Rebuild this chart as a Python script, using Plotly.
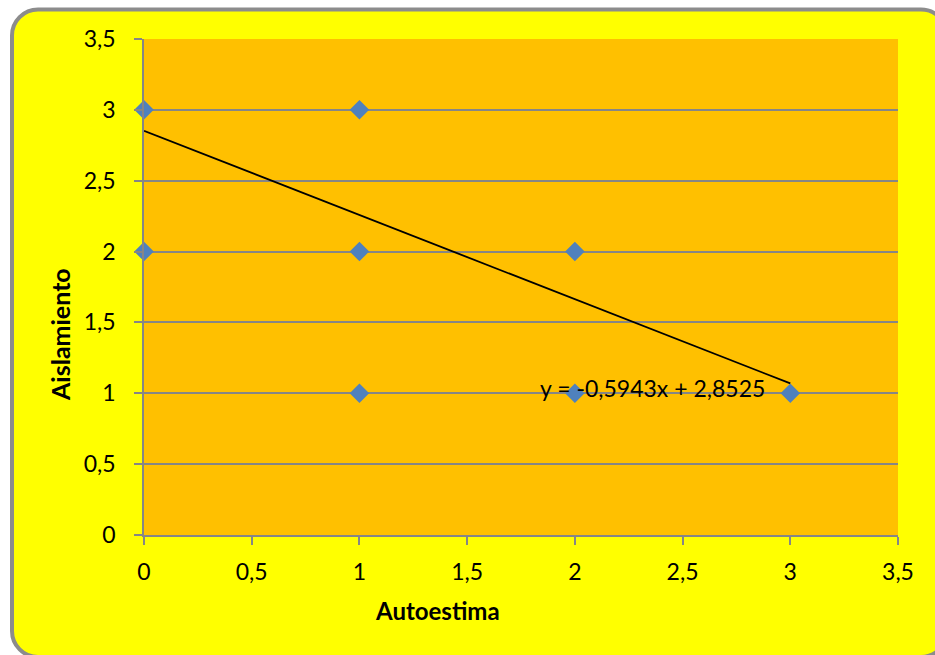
import plotly.graph_objects as go

# Data
autoestima = [0, 0, 1, 1, 1, 2, 2, 3]
aislamiento = [3, 2, 3, 2, 1, 2, 1, 1]
slope = -0.5943
intercept = 2.8525
trend_x = [0, 3]
tick_vals = [0, 0.5, 1, 1.5, 2, 2.5, 3, 3.5]
tick_text = ["0", "0,5", "1", "1,5", "2", "2,5", "3", "3,5"]

W, H = 935, 655
L, R, T, B = 144, 898, 39, 535
FONT = "Lato"


def px(x):
    return (x - L) / (R - L)


def py(y):
    return (B - y) / (B - T)


def rounded_path(x0, y0, x1, y1, r):
    k = 0.5523 * r
    pts = []
    pts.append(f"M {px(x0 + r)},{py(y0)}")
    pts.append(f"L {px(x1 - r)},{py(y0)}")
    pts.append(f"C {px(x1 - r + k)},{py(y0)} {px(x1)},{py(y0 + r - k)} {px(x1)},{py(y0 + r)}")
    pts.append(f"L {px(x1)},{py(y1 - r)}")
    pts.append(f"C {px(x1)},{py(y1 - r + k)} {px(x1 - r + k)},{py(y1)} {px(x1 - r)},{py(y1)}")
    pts.append(f"L {px(x0 + r)},{py(y1)}")
    pts.append(f"C {px(x0 + r - k)},{py(y1)} {px(x0)},{py(y1 - r + k)} {px(x0)},{py(y1 - r)}")
    pts.append(f"L {px(x0)},{py(y0 + r)}")
    pts.append(f"C {px(x0)},{py(y0 + r - k)} {px(x0 + r - k)},{py(y0)} {px(x0 + r)},{py(y0)}")
    pts.append("Z")
    return " ".join(pts)


trend_y = [slope * x + intercept for x in trend_x]

fig = go.Figure()
fig.add_trace(go.Scatter(
    x=trend_x, y=trend_y, mode="lines",
    line=dict(color="black", width=1.8), hoverinfo="skip", showlegend=False,
))
fig.add_trace(go.Scatter(
    x=autoestima, y=aislamiento, mode="markers",
    marker=dict(symbol="diamond", size=15, color="#4F81BD"),
    showlegend=False, cliponaxis=False,
))


def fmt(v):
    return f"{v:.4f}".replace(".", ",")


eq = f"y = {fmt(slope)}x + {fmt(intercept)}"

fig.update_layout(
    width=W, height=H,
    margin=dict(l=L, r=W - R, t=T, b=H - B, pad=0),
    paper_bgcolor="white",
    plot_bgcolor="rgba(0,0,0,0)",
    separators=",.",
    font=dict(family=FONT, size=23, color="black"),
    shapes=[
        dict(type="path", xref="paper", yref="paper",
             path=rounded_path(12, 9.5, 947, 657, 26),
             fillcolor="#FFFF00", line=dict(color="#8C8C8C", width=4), layer="below"),
        dict(type="rect", xref="paper", yref="paper", x0=0, x1=1, y0=0, y1=1,
             fillcolor="#FFC000", line=dict(width=0), layer="below"),
    ],
    annotations=[
        dict(text=eq, x=2.36, y=1.04, xref="x", yref="y", showarrow=False,
             font=dict(size=23, family=FONT), xanchor="center", yanchor="middle"),
        dict(text="<b>Autoestima</b>", x=px(437), y=py(610), xref="paper", yref="paper",
             showarrow=False, font=dict(size=24, family=FONT), xanchor="center", yanchor="middle"),
        dict(text="<b>Aislamiento</b>", x=px(60), y=py(335), xref="paper", yref="paper",
             showarrow=False, textangle=-90, font=dict(size=25, family=FONT),
             xanchor="center", yanchor="middle"),
    ],
)
fig.update_xaxes(
    range=[0, 3.5], tickvals=tick_vals, ticktext=tick_text,
    showgrid=False, zeroline=False, showline=True, linecolor="#868686", linewidth=1.5,
    ticks="outside", ticklen=8, tickcolor="#868686", tickwidth=1.5,
    ticklabelstandoff=8, tickfont=dict(size=23, family=FONT),
)
fig.update_yaxes(
    range=[0, 3.5], tickvals=tick_vals, ticktext=tick_text,
    showgrid=True, gridcolor="#868686", gridwidth=1.5,
    zeroline=False, showline=True, linecolor="#868686", linewidth=1.5,
    ticks="outside", ticklen=8, tickcolor="#868686", tickwidth=1.5,
    ticklabelstandoff=14, tickfont=dict(size=23, family=FONT),
)

fig.write_html(
    "out.html",
    config={"displayModeBar": False},
    post_script="document.body.style.margin='0';document.body.style.overflow='hidden';",
)
